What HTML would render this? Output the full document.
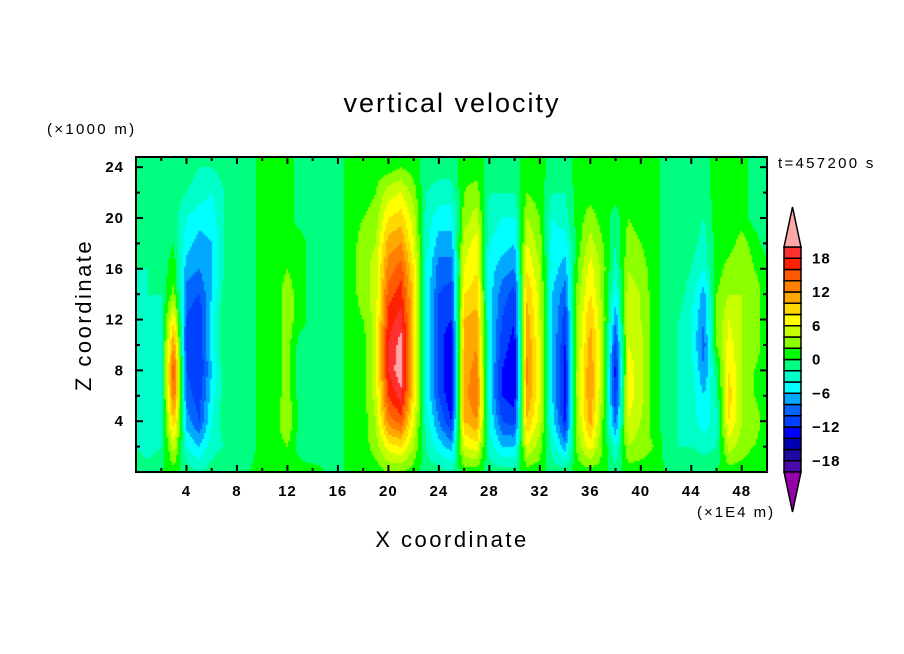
<!DOCTYPE html>
<html><head><meta charset="utf-8"><style>
body{margin:0;background:#fff;}
svg text{font-family:"Liberation Sans",sans-serif;fill:#000;}
</style></head><body>
<div style="position:relative;width:904px;height:654px;">
<canvas id="cv" width="904" height="654" style="position:absolute;left:0;top:0"></canvas>
<svg id="sv" width="904" height="654" style="position:absolute;left:0;top:0">
<text x="452" y="112" font-size="27" letter-spacing="2" text-anchor="middle">vertical velocity</text>
<text x="47" y="134" font-size="15" letter-spacing="2.3">(×1000 m)</text>
<text x="778" y="168" font-size="15" letter-spacing="2.3">t=457200 s</text>
<text x="697" y="517" font-size="15" letter-spacing="2">(×1E4 m)</text>
<text x="452" y="547" font-size="22" letter-spacing="2.5" text-anchor="middle">X coordinate</text>
<text x="0" y="0" font-size="22" letter-spacing="2.5" text-anchor="middle" transform="translate(91,315) rotate(-90)">Z coordinate</text>
</svg>
</div>
<script>
const zLevels=[24,22,20,18,16,14,12,10,8,6,4,2,0];
const xPositions=[0,1,2,3,4,5,6,7,8,9,10,11,12,13,14,15,16,17,18,19,20,21,22,23,24,25,26,27,28,29,30,31,32,33,34,35,36,37,38,39,40,41,42,43,44,45,46,47,48,49,50];
const field=[
[-1,-1,-1,-2,-2,-3,-3,-3,-3,-4,-3,-2,-1],
[-1,-1,-1,-1,-2,-2,-3,-3,-4,-3,-4,-3,-1],
[-1,-1,-1,-1,-1,-2,-2,-2,-3,-3,-2,-2,0],
[-1,-1,-1,0,1,3,8,12,16,14,10,5,1],
[-1,-2,-4,-5,-7,-9,-10,-11,-10,-9,-7,-4,-1],
[-2,-3,-5,-7,-8,-10,-12,-12,-12,-11,-10,-6,-2],
[-2,-4,-5,-6,-6,-6,-5,-5,-6,-5,-4,-3,-1],
[-1,-2,-2,-2,-2,-1,0,0,-1,-1,-1,-2,0],
[-1,-1,-1,-1,-1,-1,-1,-1,-1,-2,-2,-1,0],
[-1,-1,-1,-1,-1,-1,-1,-1,-1,-1,-1,-1,0],
[1,1,1,1,1,1,1,1,1,1,1,1,1],
[1,1,1,1,1,1,1,1,1,1,1,1,1],
[1,1,1,1,2,3,3,3,3,3,4,2,1],
[-1,-1,-1,1,1,1,1,-1,-1,-1,-1,-1,1],
[-1,-1,-1,-1,-1,-1,-1,-1,-1,-1,-1,-2,1],
[-1,-1,-1,-1,-1,-1,-1,-1,-1,-1,-1,-1,0],
[-1,-1,-1,-1,-1,-1,-1,-1,-1,-1,-1,-1,-1],
[1,1,1,1,1,1,1,1,1,1,1,1,1],
[1,1,2,3,3,3,2,1,1,1,1,1,1],
[1,2,3,4,5,5,5,5,5,5,4,3,1],
[1,5,8,11,13,15,17,18,18,16,13,7,2],
[2,6,9,12,15,17,19,21,22,19,15,8,2],
[1,3,5,6,8,9,9,9,9,8,6,4,1],
[-1,-2,-3,-3,-4,-4,-4,-4,-4,-4,-3,-2,-1],
[-1,-3,-5,-7,-9,-10,-11,-11,-11,-10,-8,-5,-1],
[-1,-3,-5,-7,-9,-11,-12,-14,-14,-14,-12,-7,-2],
[1,2,3,5,6,8,10,10,11,11,10,6,1],
[1,3,5,7,8,9,11,12,13,14,12,7,1],
[-1,-2,-3,-4,-5,-5,-5,-5,-5,-5,-4,-3,-1],
[-1,-2,-4,-5,-7,-9,-10,-11,-12,-12,-10,-6,-1],
[-1,-2,-4,-6,-8,-11,-12,-13,-14,-13,-11,-6,-1],
[1,2,4,6,8,10,11,12,13,12,10,6,1],
[1,1,2,3,4,5,5,6,6,6,5,3,1],
[-1,-2,-4,-5,-5,-6,-6,-6,-6,-6,-5,-3,-1],
[-1,-2,-3,-5,-7,-9,-11,-12,-13,-13,-12,-7,-1],
[1,1,1,1,2,3,4,4,5,5,4,3,1],
[1,1,3,5,7,8,10,11,12,12,11,7,1],
[1,1,1,2,3,3,4,4,4,3,2,2,1],
[1,1,-1,-2,-3,-5,-8,-11,-13,-12,-9,-4,-1],
[1,1,2,3,4,5,6,6,7,7,6,4,1],
[1,1,1,2,3,4,4,5,5,5,4,3,1],
[1,1,1,1,1,1,1,1,1,1,1,2,1],
[-1,-1,-1,-1,-1,-1,-1,-1,-1,-1,-1,-1,0],
[-1,-1,-1,-1,-1,-1,-2,-2,-2,-2,-2,-2,0],
[-1,-1,-1,-1,-2,-3,-4,-4,-3,-3,-3,-2,0],
[-1,-1,-2,-3,-4,-7,-8,-9,-8,-6,-5,-3,0],
[1,1,1,1,1,2,2,2,-1,-2,-3,-2,0],
[1,1,1,1,3,4,6,7,8,9,8,5,1],
[1,1,1,3,4,4,4,4,4,4,4,3,1],
[-1,-1,-1,1,2,3,3,3,2,2,3,2,0],
[-1,-1,-1,-1,1,1,1,1,1,1,1,1,0]
];
const xTickLabels=["4","8","12","16","20","24","28","32","36","40","44","48"];
const yTickLabels=["4","8","12","16","20","24"];
const cbLabels=["18","12","6","0","-6","-12","-18"];
const cbLevels=[18,12,6,0,-6,-12,-18];
const binColors=["#4b0aaa","#1e0aa0","#0000b4","#0000ff","#0040ff","#0064ff","#00a8ff","#00ffff","#00ffc8","#00ff80","#00ff00","#8cff00","#c8ff00","#ffff00","#ffd800","#ffa800","#ff8000","#ff5a00","#ff2000","#ff3030"];
const underColor="#9600aa",overColor="#ffa8a8";

const X0=136,X1=767,Y0=157,Y1=472,XMIN=0,XMAX=50,ZMIN=0,ZMAX=24.8;
function sx(v){return X0+(v-XMIN)/(XMAX-XMIN)*(X1-X0);}
function sy(v){return Y1-(v-ZMIN)/(ZMAX-ZMIN)*(Y1-Y0);}
function colorOf(v){if(v<-20)return underColor;if(v>=20)return overColor;return binColors[Math.floor((v+20)/2)];}
function sample(x,z){
  let i=0;while(i<xPositions.length-2&&xPositions[i+1]<x)i++;
  const tx=Math.max(0,Math.min(1,(x-xPositions[i])/(xPositions[i+1]-xPositions[i])));
  let j=0;while(j<zLevels.length-2&&zLevels[j+1]>z)j++;
  const tz=Math.max(0,Math.min(1,(zLevels[j]-z)/(zLevels[j]-zLevels[j+1])));
  const a=field[i][j],b=field[i+1][j],c=field[i][j+1],d=field[i+1][j+1];
  const top=a+(b-a)*tx,bot=c+(d-c)*tx;return top+(bot-top)*tz;
}
const ctx=document.getElementById('cv').getContext('2d');
const step=2;
for(let px=X0;px<X1;px+=step){for(let py=Y0;py<Y1;py+=step){
  const x=XMIN+(px+step/2-X0)/(X1-X0)*(XMAX-XMIN);
  const z=ZMIN+(Y1-(py+step/2))/(Y1-Y0)*(ZMAX-ZMIN);
  ctx.fillStyle=colorOf(sample(x,z));ctx.fillRect(px,py,step,step);
}}
const NS="http://www.w3.org/2000/svg";const sv=document.getElementById('sv');
function mk(t,at){const e=document.createElementNS(NS,t);for(const k in at)e.setAttribute(k,at[k]);sv.appendChild(e);return e;}
let fr=mk('rect',{x:X0,y:Y0,width:X1-X0,height:Y1-Y0,fill:'none',stroke:'#000','stroke-width':2});


for(let v=2;v<50;v+=2){const maj=v%4===0,L=maj?7:4;
  let t1=mk('line',{x1:sx(v),x2:sx(v),y1:Y1,y2:Y1-L,stroke:'#000','stroke-width':2});
  
  
  let t2=mk('line',{x1:sx(v),x2:sx(v),y1:Y0,y2:Y0+L,stroke:'#000','stroke-width':2});
  
  }
xTickLabels.forEach(s=>{let t=mk('text',{x:sx(+s),y:Y1+24,'font-size':15,'font-weight':'bold','letter-spacing':1,'text-anchor':'middle'});t.textContent=s;
  
  });
for(let v=2;v<=24;v+=2){const maj=v%4===0,L=maj?7:4;
  let t1=mk('line',{x1:X0,x2:X0+L,y1:sy(v),y2:sy(v),stroke:'#000','stroke-width':2});
  
  
  let t2=mk('line',{x1:X1,x2:X1-L,y1:sy(v),y2:sy(v),stroke:'#000','stroke-width':2});
  
  }
yTickLabels.forEach(s=>{let t=mk('text',{x:X0-12,y:sy(+s)+5,'font-size':15,'font-weight':'bold','letter-spacing':1,'text-anchor':'end'});t.textContent=s;
  
  });
const CX=784,CW=17,CB0=247,CB1=472,bh=(CB1-CB0)/binColors.length;
function cy(v){return CB1-(v+20)/40*(CB1-CB0);}
binColors.forEach((c,k)=>{let r=mk('rect',{x:CX,y:CB1-(k+1)*bh,width:CW,height:bh,fill:c,stroke:'#000','stroke-width':1.5});
  
  });
let up=mk('polygon',{points:`${CX},${CB0} ${CX+CW/2},207 ${CX+CW},${CB0}`,fill:overColor,stroke:'#000','stroke-width':1.5});


let dn=mk('polygon',{points:`${CX},${CB1} ${CX+CW/2},512 ${CX+CW},${CB1}`,fill:underColor,stroke:'#000','stroke-width':1.5});


cbLabels.forEach((s,k)=>{let t=mk('text',{x:812,y:cy(cbLevels[k])+5,'font-size':15,'font-weight':'bold','letter-spacing':1});t.textContent=s.replace('-','−');
  
  });
</script>
</body></html>
